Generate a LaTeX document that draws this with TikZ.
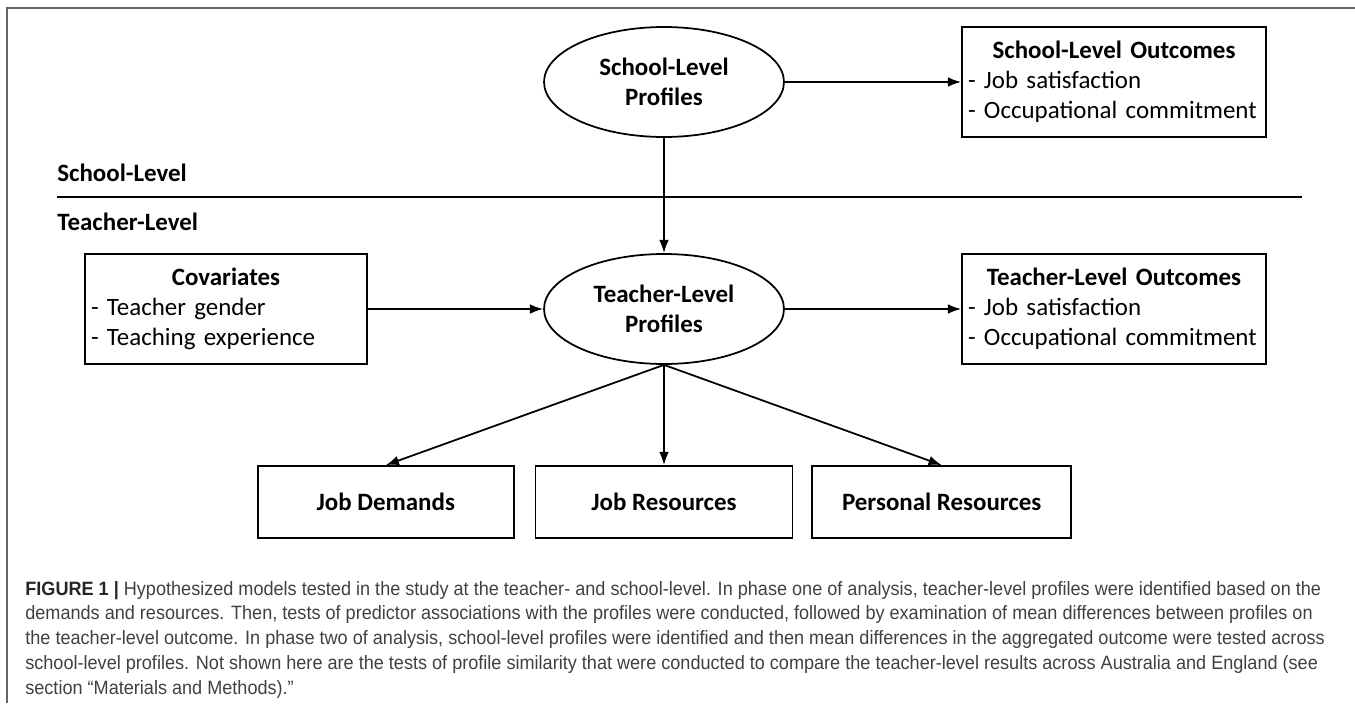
\documentclass[tikz,border=0pt]{standalone}
\usepackage{fontspec}
\setmainfont{Carlito}
\newfontfamily\capfont[FakeStretch=0.936]{Liberation Sans}
\usepackage{tikz}
\usetikzlibrary{shapes,arrows.meta,positioning,calc}
\newcommand{\diafont}{\fontsize{14.2}{17}\selectfont}
\tikzstyle{block} = [draw, rectangle, line width=1pt, minimum height=1.44cm, text=black, align=center, font=\diafont\bfseries]
\tikzstyle{listbox} = [draw, rectangle, line width=1pt, minimum height=2.2cm, inner sep=0.12cm, text=black, align=left, font=\diafont]
\tikzstyle{latent} = [draw, ellipse, line width=1pt, minimum width=4.8cm, minimum height=2.2cm, inner sep=0pt, align=center, font=\diafont\bfseries]
\tikzstyle{level} = [anchor=west, inner sep=0pt, font=\diafont\bfseries]
\tikzstyle{arr} = [draw, line width=1pt, ->]

\begin{document}
\begin{tikzpicture}[x=0.02cm, y=-0.02cm, >={Latex[length=7.5pt,width=5.5pt]}]
    \useasboundingbox (0,0) rectangle (1355,703);
    \draw [black!60, line width=0.8pt] (7,703) -- (7,8) -- (1355,8);

    % school level
    \node at (664,82) [latent, name=sprof] {School-Level\\ Profiles};
    \node at (1114,82) [listbox, text width=5.84cm, name=sout] {{\centering\textbf{School-Level Outcomes}\par}- Job satisfaction\\- Occupational commitment};
    \draw [arr] (sprof) -- (sout);

    \node at (57,173) [level] (slevel) {School-Level};
    \draw [line width=1pt] (57,197) -- (1302,197);
    \node at (57,222) [level] (tlevel) {Teacher-Level};

    % teacher level
    \node at (664,309) [latent, name=tprof] {Teacher-Level\\ Profiles};
    \node at (226,309) [listbox, text width=5.4cm, name=cov] {{\centering\textbf{Covariates}\par}- Teacher gender\\- Teaching experience};
    \node at (1114,309) [listbox, text width=5.84cm, name=tout] {{\centering\textbf{Teacher-Level Outcomes}\par}- Job satisfaction\\- Occupational commitment};
    \draw [arr] (sprof) -- (tprof);
    \draw [arr] (cov) -- (tprof);
    \draw [arr] (tprof) -- (tout);

    \node at (664,502) [block, minimum width=5.14cm, name=jr] {Job Resources};
    \node [block, minimum width=5.12cm, left=0.4cm of jr] (jd) {Job Demands};
    \node [block, minimum width=5.18cm, right=0.36cm of jr] (pr) {Personal Resources};
    \draw [arr] (tprof.south) -- (jd.north);
    \draw [arr] (tprof.south) -- (jr.north);
    \draw [arr] (tprof.south) -- (pr.north);

    % caption
    \node at (25,694) [anchor=base west, inner sep=0pt, align=left, text=black!75, font=\capfont\fontsize{11}{14.06}\selectfont] (caption) {\textbf{\color{black!85}FIGURE 1 |} Hypothesized models tested in the study at the teacher- and school-level. In phase one of analysis, teacher-level profiles were identified based on the\\
    demands and resources. Then, tests of predictor associations with the profiles were conducted, followed by examination of mean differences between profiles on\\
    the teacher-level outcome. In phase two of analysis, school-level profiles were identified and then mean differences in the aggregated outcome were tested across\\
    school-level profiles. Not shown here are the tests of profile similarity that were conducted to compare the teacher-level results across Australia and England (see\\
    section “Materials and Methods).”};
\end{tikzpicture}
\end{document}
